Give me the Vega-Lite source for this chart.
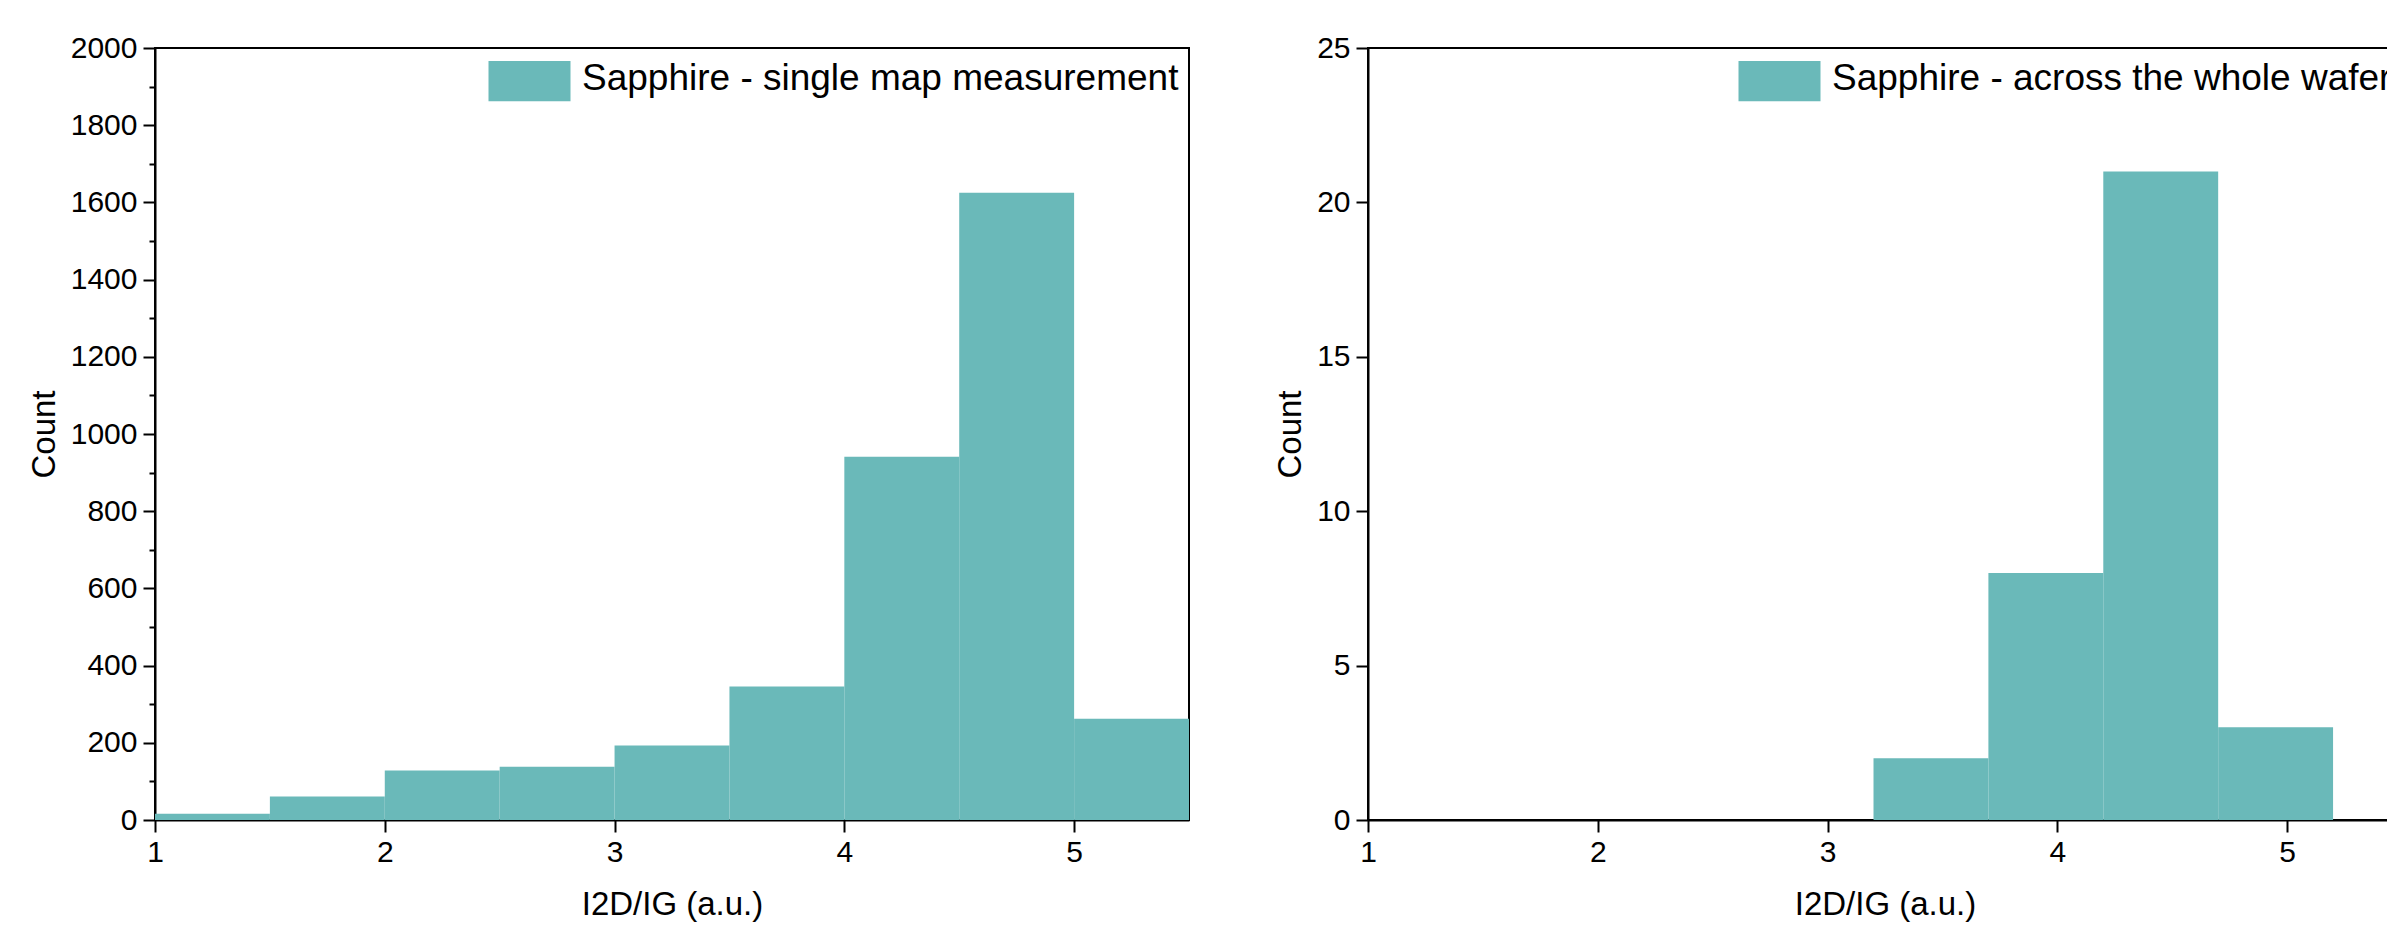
{
  "$schema": "https://vega.github.io/schema/vega-lite/v6.json",
  "background": "white",
  "padding": {"left": 27, "top": 32, "right": 0, "bottom": 0},
  "bounds": "flush",
  "spacing": 179,
  "datasets": {
    "single": [
      {"lo": 1.0, "hi": 1.5, "count": 16, "series": "Sapphire - single map measurement"},
      {"lo": 1.5, "hi": 2.0, "count": 61, "series": "Sapphire - single map measurement"},
      {"lo": 2.0, "hi": 2.5, "count": 128, "series": "Sapphire - single map measurement"},
      {"lo": 2.5, "hi": 3.0, "count": 138, "series": "Sapphire - single map measurement"},
      {"lo": 3.0, "hi": 3.5, "count": 193, "series": "Sapphire - single map measurement"},
      {"lo": 3.5, "hi": 4.0, "count": 346, "series": "Sapphire - single map measurement"},
      {"lo": 4.0, "hi": 4.5, "count": 941, "series": "Sapphire - single map measurement"},
      {"lo": 4.5, "hi": 5.0, "count": 1625, "series": "Sapphire - single map measurement"},
      {"lo": 5.0, "hi": 5.5, "count": 262, "series": "Sapphire - single map measurement"}
    ],
    "wafer": [
      {"lo": 3.2, "hi": 3.7, "count": 2, "series": "Sapphire - across the whole wafer"},
      {"lo": 3.7, "hi": 4.2, "count": 8, "series": "Sapphire - across the whole wafer"},
      {"lo": 4.2, "hi": 4.7, "count": 21, "series": "Sapphire - across the whole wafer"},
      {"lo": 4.7, "hi": 5.2, "count": 3, "series": "Sapphire - across the whole wafer"}
    ]
  },
  "hconcat": [
    {
      "width": 1034,
      "height": 772,
      "data": {"name": "single"},
      "mark": {"type": "bar", "strokeWidth": 0},
      "encoding": {
        "x": {
          "field": "lo", "type": "quantitative",
          "scale": {"domain": [1, 5.5], "nice": false, "zero": false},
          "title": "I2D/IG (a.u.)",
          "axis": {
            "values": [1, 1.5, 2, 2.5, 3, 3.5, 4, 4.5, 5, 5.5],
            "format": "d",
            "labelExpr": "datum.value % 1 === 0 ? datum.label : ''",
            "tickSize": {"condition": {"test": "datum.value % 1 === 0", "value": 12}, "value": 6},
            "labelPadding": 5, "titlePadding": 21
          }
        },
        "x2": {"field": "hi"},
        "y": {
          "field": "count", "type": "quantitative",
          "scale": {"domain": [0, 2000], "nice": false},
          "title": "Count",
          "axis": {
            "values": [0, 100, 200, 300, 400, 500, 600, 700, 800, 900, 1000, 1100, 1200, 1300, 1400, 1500, 1600, 1700, 1800, 1900, 2000],
            "format": "d",
            "labelExpr": "datum.value % 200 === 0 ? datum.label : ''",
            "tickSize": {"condition": {"test": "datum.value % 200 === 0", "value": 12}, "value": 6},
            "labelPadding": 6, "titlePadding": 9
          }
        },
        "y2": {"datum": 0},
        "color": {
          "field": "series", "type": "nominal",
          "scale": {"range": ["#6ab9b9"]},
          "legend": {
            "title": null, "orient": "top-right", "offset": 10, "padding": 0,
            "symbolType": "M-2,-0.85H2V1.11H-2Z", "symbolSize": 1681, "symbolStrokeWidth": 0,
            "labelFontSize": 37, "labelFont": "Liberation Sans", "labelColor": "black",
            "labelOffset": 32, "labelLimit": 0
          }
        }
      }
    },
    {
      "width": 1034,
      "height": 772,
      "data": {"name": "wafer"},
      "mark": {"type": "bar", "strokeWidth": 0},
      "encoding": {
        "x": {
          "field": "lo", "type": "quantitative",
          "scale": {"domain": [1, 5.5], "nice": false, "zero": false},
          "title": "I2D/IG (a.u.)",
          "axis": {
            "values": [1, 1.5, 2, 2.5, 3, 3.5, 4, 4.5, 5, 5.5],
            "format": "d",
            "labelExpr": "datum.value % 1 === 0 ? datum.label : ''",
            "tickSize": {"condition": {"test": "datum.value % 1 === 0", "value": 12}, "value": 6},
            "labelPadding": 5, "titlePadding": 21
          }
        },
        "x2": {"field": "hi"},
        "y": {
          "field": "count", "type": "quantitative",
          "scale": {"domain": [0, 25], "nice": false},
          "title": "Count",
          "axis": {
            "values": [0, 5, 10, 15, 20, 25],
            "format": "d",
            "tickSize": 12,
            "labelPadding": 6, "titlePadding": 9
          }
        },
        "y2": {"datum": 0},
        "color": {
          "field": "series", "type": "nominal",
          "scale": {"range": ["#6ab9b9"]},
          "legend": {
            "title": null, "orient": "top-right", "offset": 10, "padding": 0,
            "symbolType": "M-2,-0.85H2V1.11H-2Z", "symbolSize": 1681, "symbolStrokeWidth": 0,
            "labelFontSize": 37, "labelFont": "Liberation Sans", "labelColor": "black",
            "labelOffset": 32, "labelLimit": 0
          }
        }
      }
    }
  ],
  "resolve": {"scale": {"color": "independent"}},
  "config": {
    "font": "Liberation Sans",
    "view": {"stroke": "black", "strokeWidth": 2},
    "axis": {
      "domainColor": "black", "domainWidth": 2,
      "tickColor": "black", "tickWidth": 2,
      "labelColor": "black", "titleColor": "black",
      "labelFont": "Liberation Sans", "titleFont": "Liberation Sans",
      "labelFontSize": 30, "titleFontSize": 33, "titleFontWeight": "normal",
      "grid": false, "labelFlush": false, "labelOverlap": false
    }
  }
}
